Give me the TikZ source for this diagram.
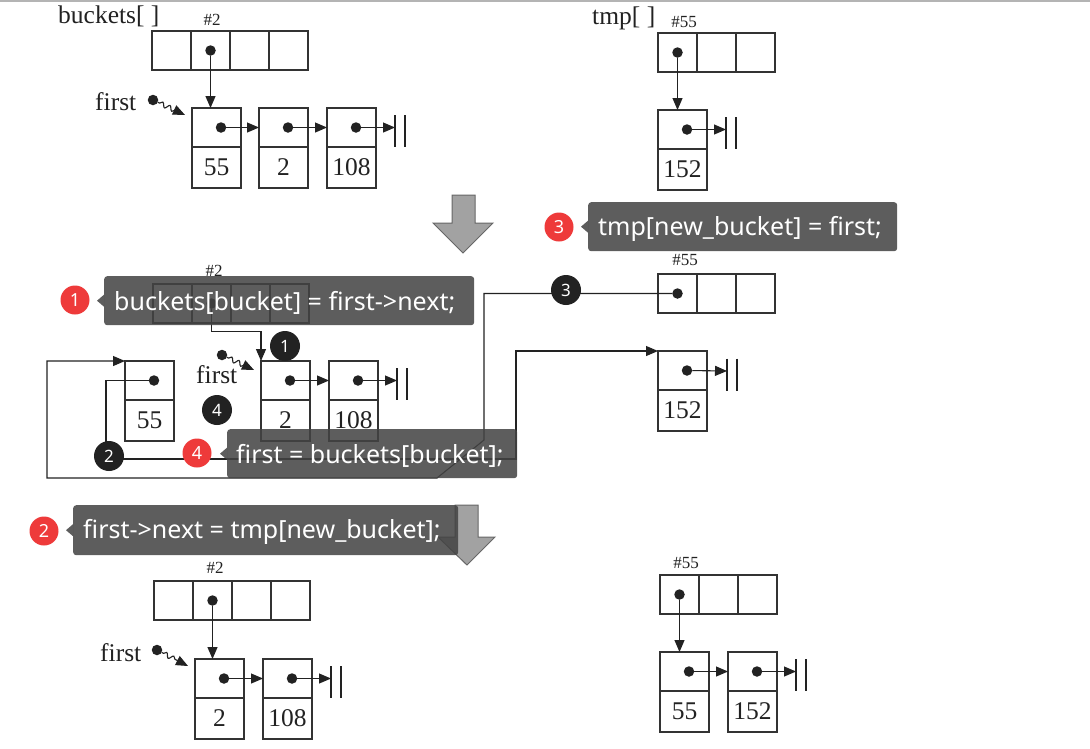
\documentclass[tikz,border=0pt]{standalone}
\usepackage{fontspec}
\setmainfont{Liberation Serif}
\newfontfamily\calfont{Noto Sans}
\usetikzlibrary{arrows.meta,decorations.pathmorphing,calc}
\definecolor{ink}{HTML}{222222}
\definecolor{boxc}{HTML}{333333}
\definecolor{calbg}{HTML}{434343}
\definecolor{redc}{HTML}{EE3A3A}
\definecolor{arrowfill}{HTML}{A2A2A2}
\definecolor{arrowdraw}{HTML}{676767}
\definecolor{topline}{HTML}{B4B4B4}
\newcommand\lnode[4]{%
  \node[ptrhalf] (#1p) at (#2,#3) {};
  \node[valhalf] (#1v) at (#1p.south west) {#4};
  \node[ptdot] (#1d) at ([xshift=4.5pt]#1p.center) {};}
\newcommand\nullmark[1]{%
  \draw[wire] ([yshift=12.5pt]#1) -- ([yshift=-19.5pt]#1)
              ([xshift=10pt,yshift=12.5pt]#1) -- ([xshift=10pt,yshift=-19.5pt]#1);}
\newcommand\callptr[1]{%
  \fill[calbg,fill opacity=0.86] ([yshift=6pt]#1.west) -- ([xshift=-7pt]#1.west) -- ([yshift=-6pt]#1.west) -- cycle;}
\begin{document}
\begin{tikzpicture}[x=1pt,y=-1pt,
  cell/.style={draw=boxc,line width=1.2pt,minimum width=39pt,minimum height=39pt,inner sep=0pt,outer sep=0pt,anchor=north west},
  ptrhalf/.style={cell,minimum width=49pt},
  valhalf/.style={cell,minimum width=49pt,minimum height=41pt,font=\fontsize{25.5}{27}\selectfont,text=ink},
  ptdot/.style={circle,fill=ink,inner sep=0pt,minimum size=10.5pt,outer sep=0pt},
  link/.style={draw=ink,line width=1.1pt,-{Triangle[length=12pt,width=10pt]}},
  wire/.style={draw=ink,line width=1.1pt},
  wavy/.style={link,decorate,decoration={snake,amplitude=2.3pt,segment length=8pt,pre length=2pt,post length=11pt}},
  lbl/.style={font=\fontsize{25.5}{27}\selectfont,inner sep=0pt,anchor=base west,text=ink},
  idx/.style={font=\fontsize{17}{18}\selectfont,inner sep=0pt,text=ink},
  numblk/.style={circle,fill=ink,text=white,inner sep=0pt,minimum size=30pt,font=\calfont\bfseries\fontsize{17}{17}\selectfont},
  numred/.style={circle,fill=redc,text=white,inner sep=0pt,minimum size=29pt,font=\calfont\fontsize{18}{18}\selectfont},
  calbox/.style={fill=calbg,fill opacity=0.86,rounded corners=3pt,inner sep=0pt,anchor=north west,minimum height=49pt},
  caltext/.style={text=white,inner sep=0pt,anchor=west,font=\calfont\fontsize{25}{28}\selectfont},
  bigarrow/.style={fill=arrowfill,draw=arrowdraw,line width=1pt,line join=miter}
]
\useasboundingbox (0,0) rectangle (1090,748);
\fill[white] (0,0) rectangle (1090,748);
\draw[topline,line width=1.5pt] (0,1) -- (1090,1);

% ================= TOP PANEL =================
\node[lbl] (tbk) at (58,23) {buckets[ ]};
\node[idx] (th2) at (212,20) {\#2};
\node[cell] (ta1) at (152,31) {};
\node[cell] (ta2) at (191,31) {};
\node[cell] (ta3) at (230,31) {};
\node[cell] (ta4) at (269,31) {};
\node[ptdot] (ta2d) at (ta2.center) {};
\lnode{t55}{192}{108}{55}
\lnode{t2}{259}{108}{2}
\lnode{t108}{327}{108}{108}
\draw[link] (ta2d) -- (ta2d |- t55p.north);
\draw[link] (t55d) -- (t2p.west |- t55d);
\draw[link] (t2d) -- (t108p.west |- t2d);
\coordinate (tnull) at (395,127.5);
\draw[link] (t108d) -- (tnull);
\nullmark{tnull}
\node[lbl] (tfirst) at (95,110) {first};
\node[ptdot] (tfd) at (153,100) {};
\coordinate (tft) at ([xshift=-7pt,yshift=-7pt]t55p.north west);
\draw[wavy] (tfd) -- (tft);

% top right
\node[lbl] (ttmp) at (592,24) {tmp[ ]};
\node[idx] (th55) at (684,22) {\#55};
\node[cell] (ra1) at (658,33) {};
\node[cell] (ra2) at (697,33) {};
\node[cell] (ra3) at (736,33) {};
\node[ptdot] (ra1d) at (ra1.center) {};
\lnode{r152}{658}{110}{152}
\draw[link] (ra1d) -- (ra1d |- r152p.north);
\coordinate (rnull) at (726,129.5);
\draw[link] (r152d) -- (rnull);
\nullmark{rnull}

% big arrow 1
\draw[bigarrow] (452,195) -- (475,195) -- (475,223) -- (493,223) -- (463,253) -- (433,223) -- (452,223) -- cycle;

% ================= MIDDLE PANEL =================
\node[idx] (mh2) at (214,271) {\#2};
\node[cell] (ma1) at (153,284) {};
\node[cell] (ma2) at (192,284) {};
\node[cell] (ma3) at (231,284) {};
\node[cell] (ma4) at (270,284) {};
\node[ptdot] (ma2d) at (ma2.center) {};
\lnode{m55}{125}{361}{55}
\lnode{m2}{261}{361}{2}
\lnode{m108}{329}{361}{108}
\draw[link] (ma2d) -- ++(0,28) -| (m2p.north west);
\draw[link] (m2d) -- (m108p.west |- m2d);
\coordinate (mnull) at (397,380.5);
\draw[link] (m108d) -- (mnull);
\nullmark{mnull}
\node[lbl] (mfirst) at (196,383) {first};
\node[ptdot] (mfd) at (222,355) {};
\coordinate (mft) at ([xshift=-7pt,yshift=-9pt]m2p.north west);
\draw[wavy] (mfd) -- (mft);

% middle right
\node[idx] (mh55) at (685,260) {\#55};
\node[cell] (sa1) at (658,274) {};
\node[cell] (sa2) at (697,274) {};
\node[cell] (sa3) at (736,274) {};
\node[ptdot] (sa1d) at (sa1.center) {};
\lnode{s152}{658}{351}{152}
\coordinate (snull) at (727,371);
\draw[link] (s152d) -- (snull);
\nullmark{snull}

% loop 3 : tmp[new_bucket] = first
\coordinate (j1) at (484,293.5);
\coordinate (j2) at (484,440);
\coordinate (j3) at (437,478);
\coordinate (j4) at (47,478);
\draw[link] (sa1d) -- (j1) -- (j2) -- (j3) -- (j4) |- (m55p.north west);
% loop 2 : first->next = tmp[new_bucket]
\coordinate (k1) at (106,380.5);
\coordinate (k2) at (106,459);
\coordinate (k3) at (516,459);
\coordinate (k4) at (516,351);
\draw[link] (m55d) -- (k1) -- (k2) -- (k3) -- (k4) -- (s152p.north west);

\node[numblk] (b1) at (285,346) {1};
\node[numblk] (b2) at (109,456) {2};
\node[numblk] (b3) at (566,290) {3};
\node[numblk] (b4) at (217,410) {4};

% big arrow 2
\draw[bigarrow] (455,505) -- (478,505) -- (478,537) -- (495,537) -- (467,565) -- (438,537) -- (455,537) -- cycle;

% ================= BOTTOM PANEL =================
\node[idx] (bh2) at (215,568) {\#2};
\node[cell] (ba1) at (154,581) {};
\node[cell] (ba2) at (193,581) {};
\node[cell] (ba3) at (232,581) {};
\node[cell] (ba4) at (271,581) {};
\node[ptdot] (ba2d) at (ba2.center) {};
\lnode{b2}{195}{659}{2}
\lnode{b108}{263}{659}{108}
\draw[link] (ba2d) -- (ba2d |- b2p.north);
\draw[link] (b2d) -- (b108p.west |- b2d);
\coordinate (bnull) at (331,678.5);
\draw[link] (b108d) -- (bnull);
\nullmark{bnull}
\node[lbl] (bfirst) at (100,661) {first};
\node[ptdot] (bfd) at (157,650) {};
\coordinate (bft) at ([xshift=-7pt,yshift=-7pt]b2p.north west);
\draw[wavy] (bfd) -- (bft);

% bottom right
\node[idx] (bh55) at (686,563) {\#55};
\node[cell] (ua1) at (660,575) {};
\node[cell] (ua2) at (699,575) {};
\node[cell] (ua3) at (738,575) {};
\node[ptdot] (ua1d) at (ua1.center) {};
\lnode{u55}{660}{652}{55}
\lnode{u152}{728}{652}{152}
\draw[link] (ua1d) -- (ua1d |- u55p.north);
\draw[link] (u55d) -- (u152p.west |- u55d);
\coordinate (unull) at (796,671.5);
\draw[link] (u152d) -- (unull);
\nullmark{unull}

% ================= CALLOUTS =================
\node[calbox,minimum width=370pt] (c1) at (104,276) {};
\callptr{c1}
\node[caltext] (c1t) at ([xshift=10pt,yshift=-2pt]c1.west) {buckets[bucket] = first->next;};
\node[numred] (r1) at (75,300) {1};

\node[calbox,minimum width=385pt,minimum height=50pt] (c2) at (73,505) {};
\callptr{c2}
\node[caltext] (c2t) at ([xshift=10pt,yshift=-2pt]c2.west) {first->next = tmp[new\_bucket];};
\node[numred] (r2) at (44,531) {2};

\node[calbox,minimum width=309pt] (c3) at (588,202) {};
\callptr{c3}
\node[caltext] (c3t) at ([xshift=10pt,yshift=-2pt]c3.west) {tmp[new\_bucket] = first;};
\node[numred] (r3) at (559,227) {3};

\node[calbox,minimum width=290pt] (c4) at (227,429) {};
\callptr{c4}
\node[caltext] (c4t) at ([xshift=9pt,yshift=-2pt]c4.west) {first = buckets[bucket];};
\node[numred] (r4) at (197,453) {4};
\end{tikzpicture}
\end{document}
